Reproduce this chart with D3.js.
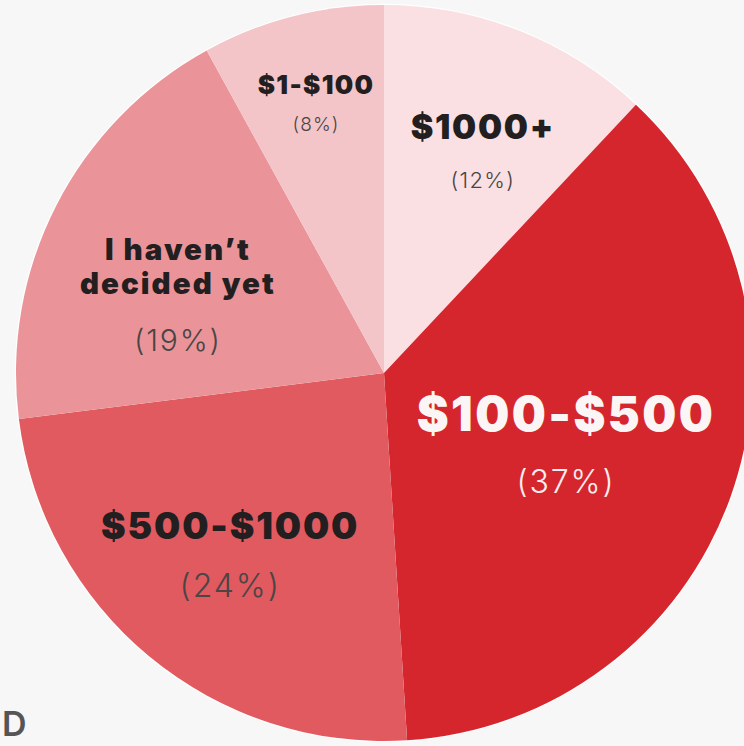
<!DOCTYPE html>
<html>
<head>
<meta charset="utf-8">
<script src="https://cdn.jsdelivr.net/npm/d3@7"></script>
<style>
  html, body { margin: 0; padding: 0; background: #f7f7f7; }
  svg { display: block; }
</style>
</head>
<body>
<svg id="chart" width="744" height="746"></svg>
<script>
// Budget answers, clockwise from 12 o'clock
const categories = ["$1000+", "$100-$500", "$500-$1000", "I haven\u2019t decided yet", "$1-$100"];
const shares = [12, 37, 24, 19, 8];
const percentLabels = ["(12%)", "(37%)", "(24%)", "(19%)", "(8%)"];
const sliceColors = ["#fae0e2", "#d6262d", "#e05a60", "#ea9499", "#f4c5c8"];

// label layout: polar anchor of the headline (degrees clockwise from top, radius),
// headline lines, font sizes and gap down to the percentage line
const labelLayout = [
  { angle: 22.9, r: 254, lines: ["$1000+"], size: 34, pctSize: 22, gap: 49, ink: "#231f20", pctInk: "#4b4546" },
  { angle: 107.7, r: 191, lines: ["$100-$500"], size: 48, pctSize: 32, gap: 62, ink: "#fbf5f5", pctInk: "#fbeeee" },
  { angle: 222.9, r: 226, lines: ["$500-$1000"], size: 37, pctSize: 32, gap: 58, ink: "#231f20", pctInk: "#4b4546" },
  { angle: 298.7, r: 235, lines: ["I haven\u2019t", "decided yet"], size: 29.5, pctSize: 30, gap: 91, lineGap: 34, spacing: "0.07em", ink: "#231f20", pctInk: "#4b4546" },
  { angle: 346.3, r: 287, lines: ["$1-$100"], size: 26, pctSize: 19, gap: 37, ink: "#231f20", pctInk: "#4b4546" }
];

const svg = d3.select("#chart");
const cx = 384, cy = 373, R = 368;

const g = svg.append("g").attr("transform", `translate(${cx},${cy})`);

// faint white rim round the disc
g.append("circle").attr("r", R + 1.2).attr("fill", "#ffffff");

const pie = d3.pie().sort(null).value(d => d).startAngle(0).endAngle(2 * Math.PI);
const arcs = pie(shares);
const arc = d3.arc().innerRadius(0).outerRadius(R);

g.selectAll("path.slice")
  .data(arcs)
  .join("path")
  .attr("class", "slice")
  .attr("d", arc)
  .attr("fill", (d, i) => sliceColors[i]);

const headFont = "Inter, 'DejaVu Sans', sans-serif";

const labels = g.selectAll("g.label")
  .data(arcs)
  .join("g")
  .attr("class", "label")
  .attr("transform", (d, i) => {
    const L = labelLayout[i];
    const a = L.angle * Math.PI / 180;
    return `translate(${L.r * Math.sin(a)},${-L.r * Math.cos(a)})`;
  });

labels.each(function (d, i) {
  const L = labelLayout[i];
  const sel = d3.select(this);
  L.lines.forEach((t, k) => {
    sel.append("text")
      .attr("text-anchor", "middle")
      .attr("y", k * (L.lineGap || 0))
      .attr("font-family", headFont)
      .attr("font-weight", 900)
      .attr("font-size", L.size)
      .attr("letter-spacing", L.spacing || "0.05em")
      .attr("fill", L.ink)
      .text(t);
  });
  sel.append("text")
    .attr("text-anchor", "middle")
    .attr("y", L.gap)
    .attr("font-family", headFont)
    .attr("font-weight", 300)
    .attr("font-size", L.pctSize)
    .attr("letter-spacing", "0.06em")
    .attr("fill", L.pctInk)
    .text(percentLabels[i]);
});

// trailing letter of the caption below the disc
svg.append("text")
  .attr("x", 2)
  .attr("y", 736)
  .attr("font-family", headFont)
  .attr("font-weight", 600)
  .attr("font-size", 34)
  .attr("fill", "#555")
  .text("D");
</script>
</body>
</html>
